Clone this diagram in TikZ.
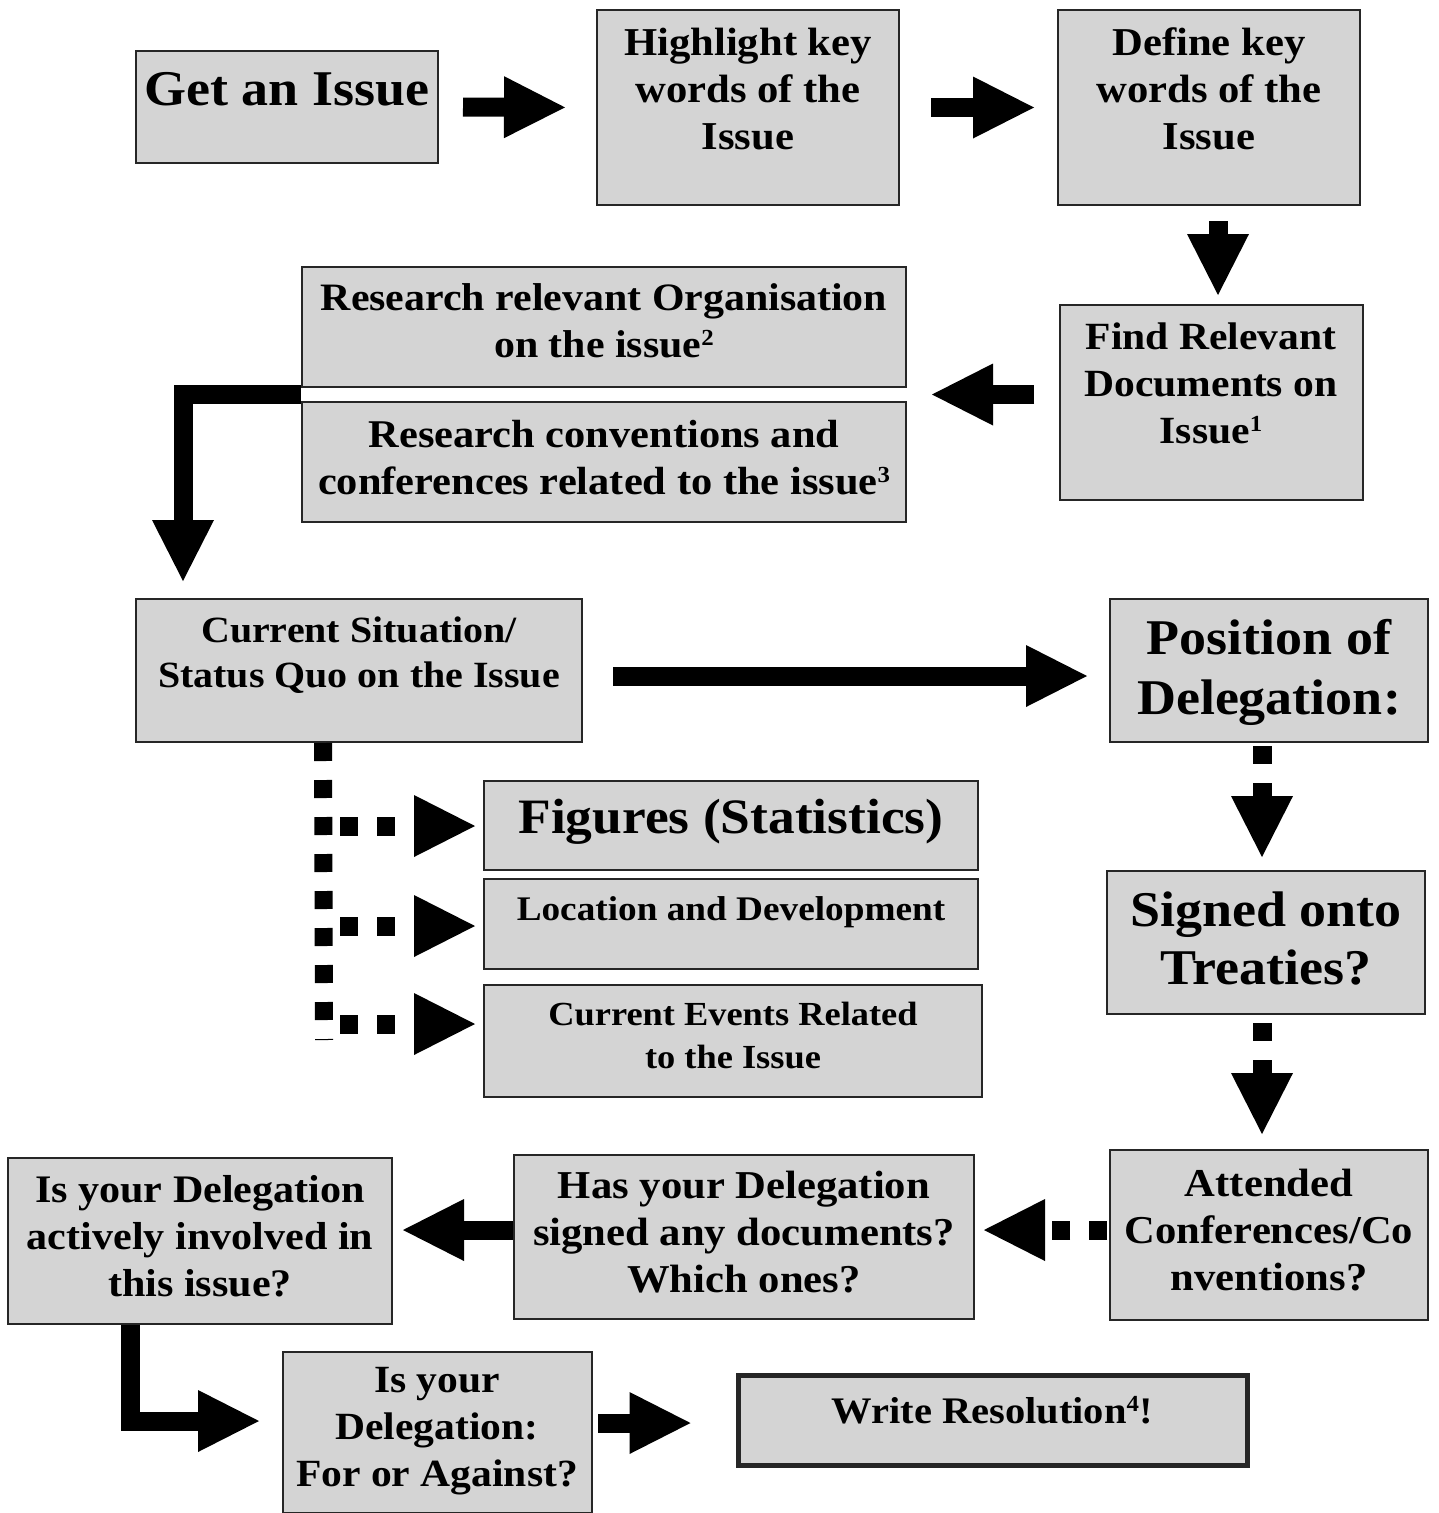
\documentclass[tikz,border=0pt]{standalone}
\usepackage{fontspec}
\setmainfont[FakeStretch=1.08]{Liberation Serif}
\usetikzlibrary{arrows.meta,calc}
\definecolor{boxgray}{RGB}{212,212,212}
\newcommand\supnum[1]{\raisebox{12pt}{\fontsize{23}{23}\selectfont #1}}
\begin{document}
\begin{tikzpicture}[x=1pt,y=-1pt,
  box/.style={draw=black!85, line width=2pt, fill=boxgray, rectangle, inner sep=0pt},
  txt/.style={align=center, font=\bfseries, inner sep=0pt},
  arr/.style={line width=19pt, -{Triangle[length=61pt,width=62pt,line width=0pt 0 0]}},
  darr/.style={arr, dash pattern=on 18pt off 19pt},
  fs/.style={font=\bfseries\fontsize{#1}{47}\selectfont}
]
\fill[white] (0,0) rectangle (1439,1513);
\useasboundingbox (0,0) rectangle (1439,1513);

% boxes
\node[box, minimum width=302pt, minimum height=112pt] (b1) at (287,107) {};
\node[box, minimum width=302pt, minimum height=195pt] (b2) at (748,107.5) {};
\node[box, minimum width=302pt, minimum height=195pt] (b3) at (1209,107.5) {};
\node[box, minimum width=303pt, minimum height=195pt] (b4) at (1211.5,402.5) {};
\node[box, minimum width=604pt, minimum height=120pt] (b5) at (604,327) {};
\node[box, minimum width=604pt, minimum height=120pt] (b6) at (604,462) {};
\node[box, minimum width=446pt, minimum height=143pt] (b7) at (359,670.5) {};
\node[box, minimum width=318pt, minimum height=143pt] (b8) at (1269,670.5) {};
\node[box, minimum width=318pt, minimum height=143pt] (b9) at (1266,942.5) {};
\node[box, minimum width=318pt, minimum height=170pt] (b10) at (1269,1235) {};
\node[box, minimum width=460pt, minimum height=164pt] (b11) at (744,1237) {};
\node[box, minimum width=384pt, minimum height=166pt] (b12) at (200,1241) {};
\node[box, minimum width=309pt, minimum height=161pt] (b13) at (437.5,1432.5) {};
\node[box, line width=5pt, minimum width=509pt, minimum height=90pt] (b14) at (992.5,1420) {};
\node[box, minimum width=494pt, minimum height=89pt] (f1) at (731,825.5) {};
\node[box, minimum width=494pt, minimum height=90pt] (f2) at (731,924) {};
\node[box, minimum width=498pt, minimum height=112pt] (f3) at (733,1041) {};

% texts
\node[txt, font=\bfseries\fontsize{50}{58}\selectfont] (t1) at (287,89) {Get an Issue};
\node[txt, fs=39.5] (t2) at (748,89) {Highlight key\\words of the\\Issue};
\node[txt, fs=39.5] (t3) at (1209,89) {Define key\\words of the\\Issue};
\node[txt, fs=38.5] (t4) at (1211,383) {Find Relevant\\Documents on\\Issue\supnum{1}};
\node[txt, fs=38.8] (t5) at (604,321) {Research relevant Organisation\\on the issue\supnum{2}};
\node[txt, fs=39.3] (t6) at (604,458) {Research conventions and\\conferences related to the issue\supnum{3}};
\node[txt, font=\bfseries\fontsize{37}{45}\selectfont] (t7) at (359,655) {Current Situation/\\Status Quo on the Issue};
\node[txt, font=\bfseries\fontsize{50}{60}\selectfont] (t8) at (1269,672) {Position of\\Delegation:};
\node[txt, font=\bfseries\fontsize{50}{58}\selectfont] (t9) at (1266,938) {Signed onto\\Treaties?};
\node[txt, fs=39.5] (t10) at (1269,1230) {Attended\\Conferences/Co\\nventions?};
\node[txt, fs=39.5] (t11) at (744,1232) {Has your Delegation\\signed any documents?\\Which ones?};
\node[txt, fs=39] (t12) at (200,1236) {Is your Delegation\\actively involved in\\this issue?};
\node[txt, fs=38.5] (t13) at (437,1431) {Is your\\Delegation:\\For or Against?};
\node[txt, font=\bfseries\fontsize{37.5}{40}\selectfont] (t14) at (992,1410) {Write Resolution\supnum{4}!};
\node[txt, font=\bfseries\fontsize{49.5}{58}\selectfont] (tf1) at (731,822) {Figures (Statistics)};
\node[txt, font=\bfseries\fontsize{34.5}{40}\selectfont] (tf2) at (731,912) {Location and Development};
\node[txt, font=\bfseries\fontsize{33.7}{43}\selectfont] (tf3) at (733,1035) {Current Events Related\\to the Issue};

% connectors
\draw[arr, shorten <=24pt, shorten >=31pt] (b1.east) -- (b2.west);
\draw[arr, shorten <=31pt, shorten >=23pt] (b2.east) -- (b3.west);
\draw[arr, shorten <=15pt, shorten >=9pt] ($(b3.south)+(9,0)$) -- ($(b4.north)+(6.5,0)$);
\coordinate (m56) at ($(b5.south east)!0.5!(b6.north east)$);
\coordinate (m56w) at ($(b5.south west)!0.5!(b6.north west)$);
\draw[arr, shorten <=25pt, shorten >=25pt] (b4.west |- m56) -- (m56);
\draw[arr, shorten >=17pt] (m56w) -| ($(b7.north west)+(48,0)$);
\draw[arr, shorten <=30pt, shorten >=22pt] ($(b7.east)+(0,5.5)$) -- ($(b8.west)+(0,5.5)$);
\draw[darr, shorten <=3pt, shorten >=13pt] ($(b8.south)+(-7,0)$) -- ($(b9.north)+(-4,0)$);
\draw[darr, shorten <=8pt, shorten >=15pt] ($(b9.south)+(-4,0)$) -- ($(b10.north)+(-7,0)$);
\draw[darr, shorten <=2pt, shorten >=9pt] ($(b10.west)+(0,-5)$) -- ($(b11.east)+(0,-7)$);
\draw[arr, shorten >=10pt] ($(b11.west)+(0,-7)$) -- ($(b12.east)+(0,-11)$);
\draw[arr, shorten >=23pt] ($(b12.south west)+(123,0)$) |- ($(b13.west)+(0,-11.5)$);
\draw[arr, shorten <=5pt, shorten >=45pt] ($(b13.east)+(0,-9.5)$) -- ($(b14.west)+(0,3)$);

% dotted branch to figures
\coordinate (vtop) at ($(b7.south west)+(188,0)$);
\coordinate (vend) at (324,1040);
\draw[line width=18pt, dash pattern=on 18pt off 19pt] (vtop) -- (vend);
\coordinate (h1) at (340,826);
\coordinate (h2) at (340,926);
\coordinate (h3) at (340,1024);
\draw[darr, shorten >=8pt] (h1) -- (h1 -| f1.west);
\draw[darr, shorten >=8pt] (h2) -- (h2 -| f2.west);
\draw[darr, shorten >=8pt] (h3) -- (h3 -| f3.west);
\end{tikzpicture}
\end{document}
